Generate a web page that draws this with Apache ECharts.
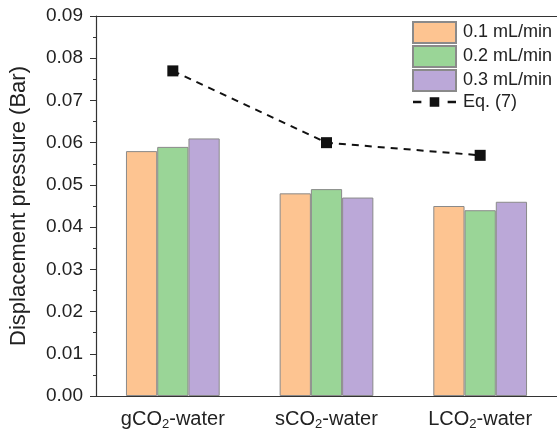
<!DOCTYPE html>
<html>
<head>
<meta charset="utf-8">
<script src="https://cdn.jsdelivr.net/npm/echarts@6/dist/echarts.min.js"></script>
<style>
  html, body { margin: 0; padding: 0; background: #fff; }
  #main { width: 557px; height: 443px; }
</style>
</head>
<body>
<div id="main"></div>
<script>
const categories = ['gCO{sub|2}-water', 'sCO{sub|2}-water', 'LCO{sub|2}-water'];
const flow01 = [0.058, 0.048, 0.045];
const flow02 = [0.059, 0.049, 0.044];
const flow03 = [0.061, 0.047, 0.046];
const eq7 = [0.077, 0.060, 0.057];

const font = 'Arial, "Liberation Sans", sans-serif';
const chart = echarts.init(document.getElementById('main'));

function barSeries(name, data, color) {
  return {
    name: name,
    type: 'bar',
    data: data,
    barGap: '0%',
    barCategoryGap: '39%',
    itemStyle: { color: color, borderColor: '#8a8a8a', borderWidth: 1 }
  };
}

// dash - square - dash legend mark
const eqIcon = 'path://M0,4h7v2H0z M14,1h8v8h-8z M29,4h7v2h-7z';

const option = {
  animation: false,
  grid: { left: 96, right: -7, top: 16, bottom: 47 },
  legend: {
    left: 407,
    top: 16,
    orient: 'vertical',
    itemWidth: 43,
    itemHeight: 21,
    itemGap: 1,
    textStyle: { fontFamily: font, fontSize: 18, color: '#222', padding: [0, 0, 0, 2] },
    data: [
      { name: '0.1 mL/min', icon: 'rect' },
      { name: '0.2 mL/min', icon: 'rect' },
      { name: '0.3 mL/min', icon: 'rect' },
      { name: 'Eq. (7)', icon: eqIcon, itemStyle: { color: '#111', borderWidth: 0 } }
    ]
  },
  xAxis: [
    {
      type: 'category',
      data: categories,
      axisLine: { lineStyle: { color: '#333', width: 1.2 } },
      axisTick: { show: false },
      axisLabel: {
        interval: 0,
        margin: 12,
        fontFamily: font,
        fontSize: 20,
        color: '#222',
        rich: { sub: { fontSize: 13, verticalAlign: 'bottom', padding: [10, 0, 0, 0], fontFamily: font, color: '#222' } }
      }
    },
    {
      type: 'category',
      position: 'top',
      data: categories,
      axisLine: { show: true, onZero: false, lineStyle: { color: '#333', width: 1.2 } },
      axisTick: { show: false },
      axisLabel: { show: false }
    }
  ],
  yAxis: {
    type: 'value',
    min: 0,
    max: 0.09,
    interval: 0.01,
    name: 'Displacement pressure (Bar)',
    nameLocation: 'middle',
    nameGap: 66,
    nameTextStyle: { fontFamily: font, fontSize: 22, color: '#222' },
    axisLine: { show: true, lineStyle: { color: '#333', width: 1.2 } },
    axisTick: { show: true, inside: false, length: 6, lineStyle: { color: '#333' } },
    minorTick: { show: true, splitNumber: 2, length: 3, lineStyle: { color: '#333' } },
    splitLine: { show: false },
    axisLabel: {
      margin: 13,
      fontFamily: font,
      fontSize: 19,
      color: '#222',
      formatter: v => v.toFixed(2)
    }
  },
  series: [
    barSeries('0.1 mL/min', flow01, '#fdc491'),
    barSeries('0.2 mL/min', flow02, '#9ad597'),
    barSeries('0.3 mL/min', flow03, '#bba8d8'),
    {
      name: 'Eq. (7)',
      type: 'line',
      data: eq7,
      symbol: 'rect',
      symbolSize: 11,
      lineStyle: { color: '#111', width: 2, type: [7, 6] },
      itemStyle: { color: '#111' }
    }
  ]
};

chart.setOption(option);
</script>
</body>
</html>
